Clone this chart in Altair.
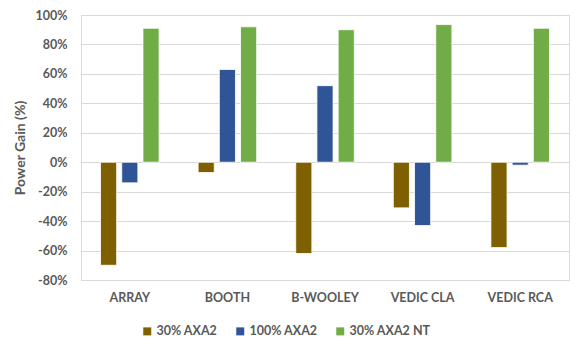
import altair as alt
import pandas as pd

# Multiplier designs and power gain per approximation setting
designs = ["ARRAY", "BOOTH", "B-WOOLEY", "VEDIC CLA", "VEDIC RCA"]
series = ["30% AXA2", "100% AXA2", "30% AXA2 NT"]
gain_30 = [-70, -7, -62, -31, -58]
gain_100 = [-14, 63, 52, -43, -2]
gain_30_nt = [91, 92, 90, 93.5, 91]
colors = ["#7F6000", "#2F5597", "#70AD47"]
y_ticks = [-0.8, -0.6, -0.4, -0.2, 0, 0.2, 0.4, 0.6, 0.8, 1.0]

rows = []
for name, vals in zip(series, [gain_30, gain_100, gain_30_nt]):
    for d, v in zip(designs, vals):
        rows.append({"design": d, "series": name, "gain": v / 100})
df = pd.DataFrame(rows)

FONT = "Lato"
TXT = "#595959"

chart = (
    alt.Chart(df)
    .mark_bar(stroke="white", strokeWidth=0.8)
    .encode(
        x=alt.X(
            "design:N",
            sort=designs,
            scale=alt.Scale(paddingInner=0.4, paddingOuter=0.2),
            axis=alt.Axis(
                title=None, labelAngle=0, domain=False, ticks=False,
                labelPadding=11, labelFont=FONT, labelFontSize=12.5,
                labelFontWeight="bold", labelColor=TXT,
            ),
        ),
        xOffset=alt.XOffset("series:N", sort=series, scale=alt.Scale(paddingInner=0.24)),
        y=alt.Y(
            "gain:Q",
            scale=alt.Scale(domain=[-0.8, 1.0], nice=False),
            axis=alt.Axis(
                title="Power Gain (%)", values=y_ticks,
                labelExpr="replace(format(datum.value, '.0%'), '\u2212', '-')",
                domain=False, ticks=False, labelPadding=14,
                gridColor="#D9D9D9", gridWidth=1,
                labelFont=FONT, labelFontSize=12.5, labelFontWeight="bold",
                labelColor=TXT, titleFont=FONT, titleFontSize=14,
                titleFontWeight="bold", titleColor=TXT, titlePadding=8,
            ),
        ),
        color=alt.Color(
            "series:N",
            sort=series,
            scale=alt.Scale(domain=series, range=colors),
            legend=alt.Legend(
                title=None, orient="none", direction="horizontal",
                legendX=60, legendY=310, symbolType="square", symbolSize=64,
                symbolStrokeWidth=0, columnPadding=16, labelOffset=3,
                labelFont=FONT, labelFontSize=12.5, labelFontWeight="bold",
                labelColor=TXT,
            ),
        ),
    )
    .properties(
        width=488, height=265,
        autosize=alt.AutoSizeParams(type="none"),
        padding={"left": 81, "top": 15, "right": 8, "bottom": 62},
    )
    .configure_view(stroke=None)
    .configure(background="white")
)

chart.save("out.html", embed_options={"renderer": "svg", "actions": False})
